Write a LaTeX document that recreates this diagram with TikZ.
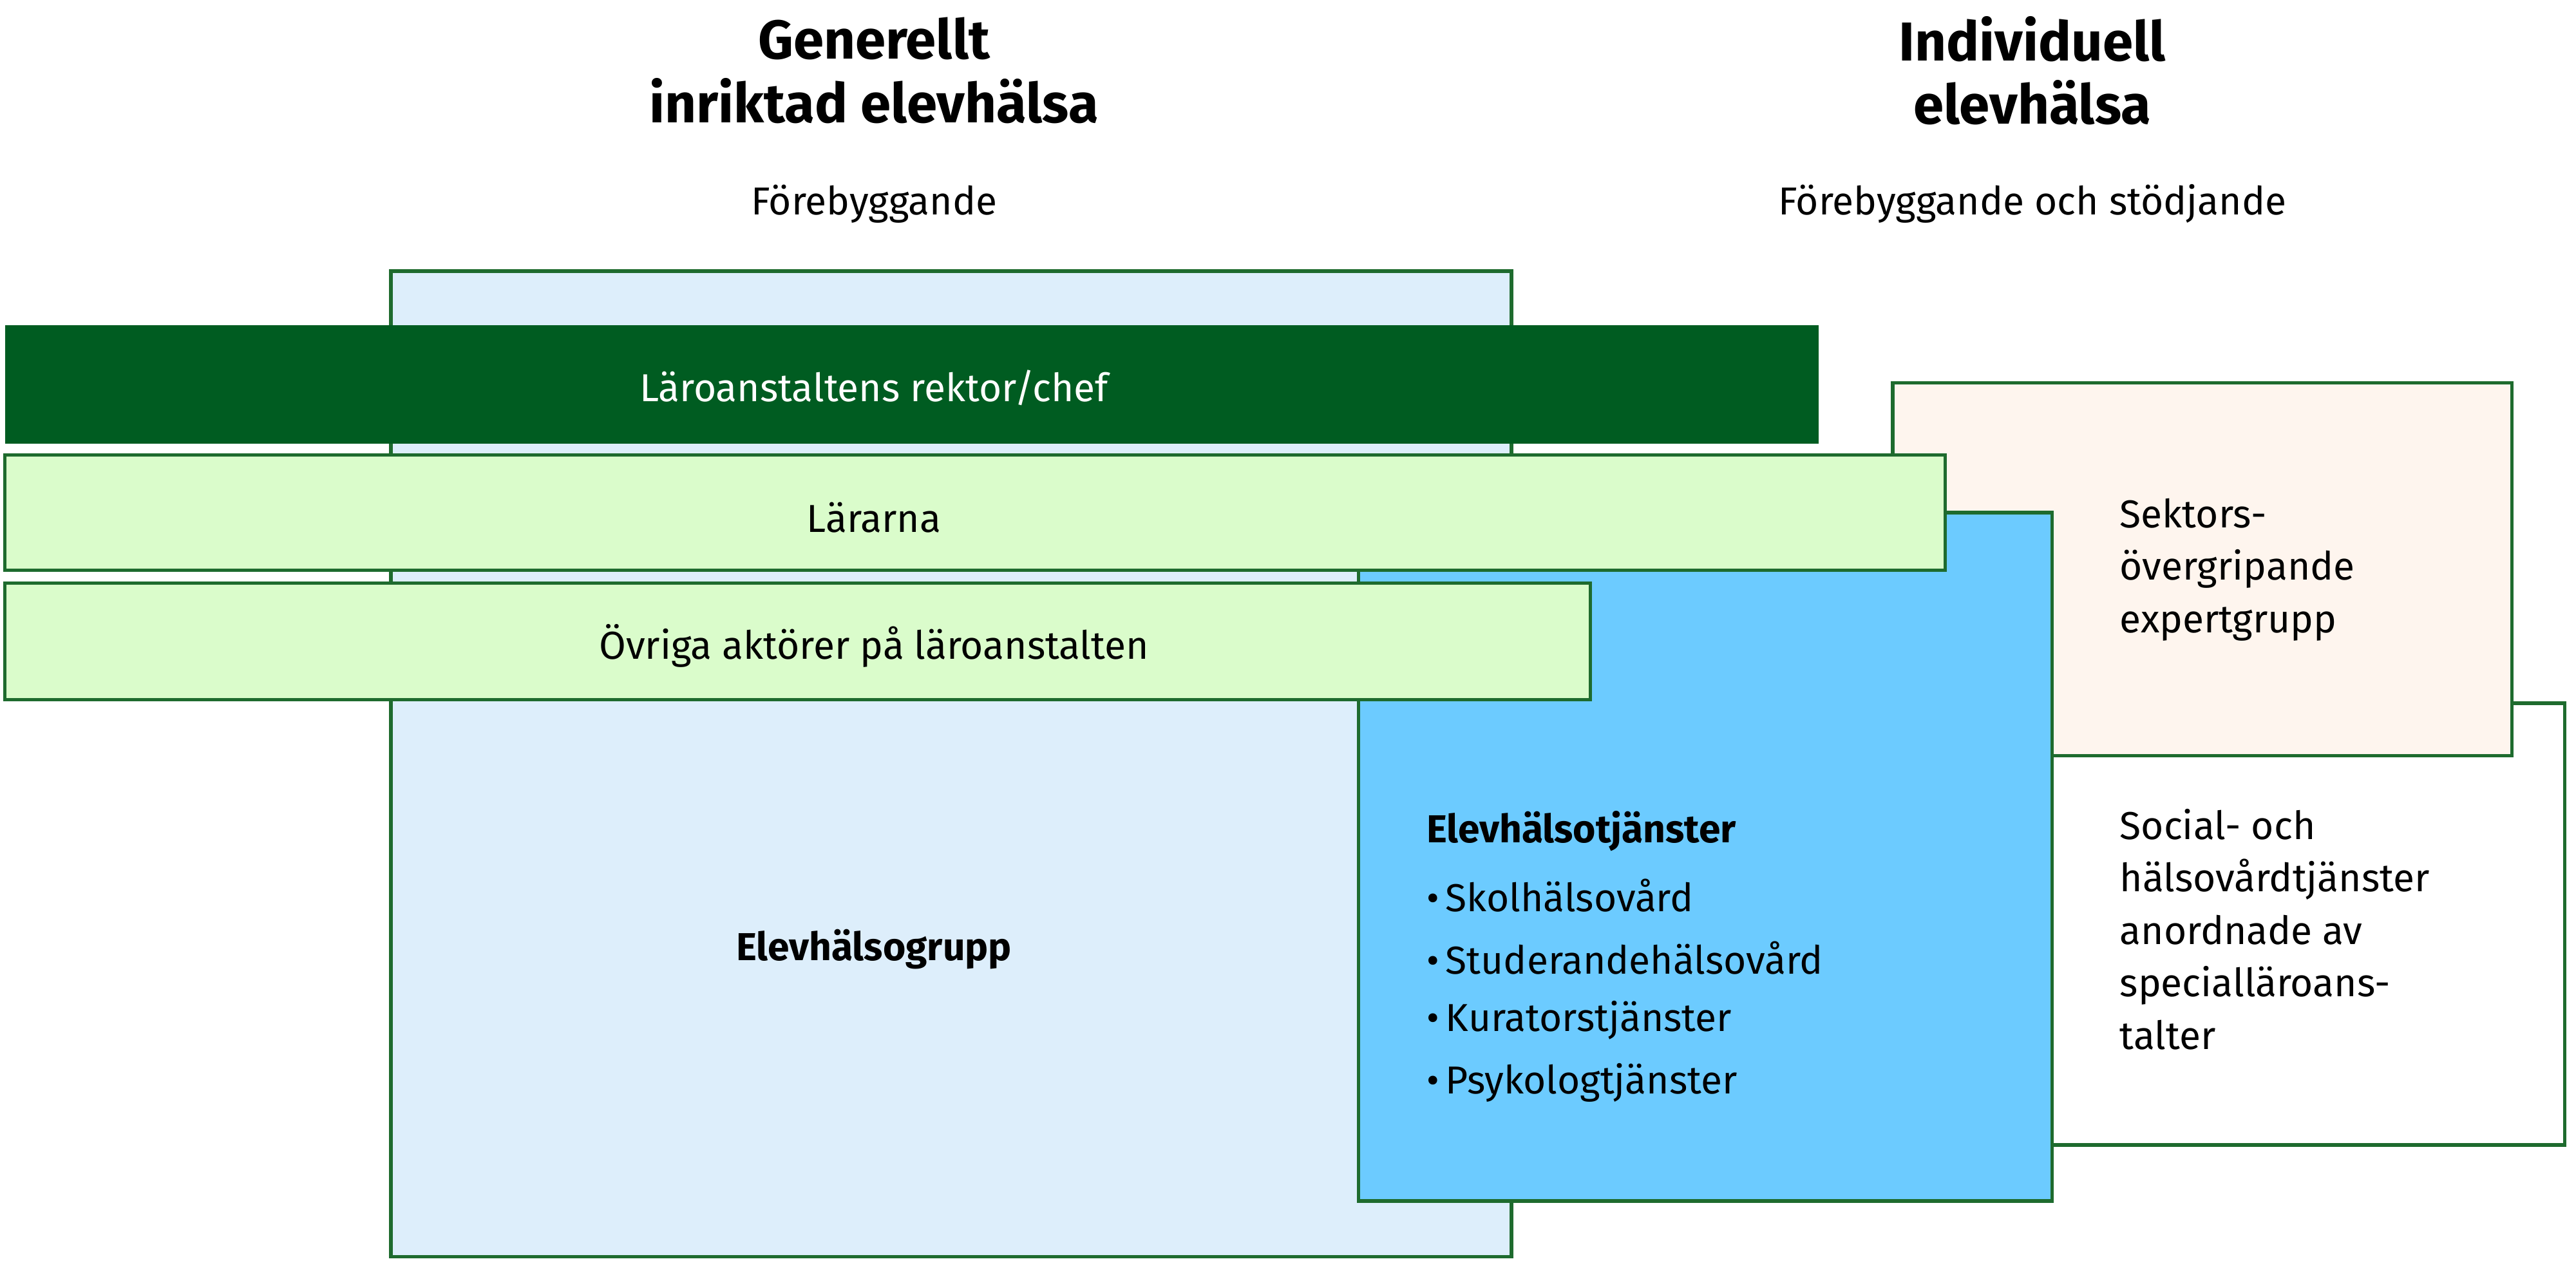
\documentclass[tikz,border=0pt]{standalone}
\usepackage{fontspec}
\setmainfont{Fira Sans}
\begin{document}
\begin{tikzpicture}[x=0.02cm,y=-0.02cm,
  bx/.style={draw=gb,line width=1.2pt},
  t/.style={font=\fontsize{13.5}{16}\selectfont,inner sep=0},
  tl/.style={t,anchor=west},
  ti/.style={font=\fontsize{19}{22}\selectfont\bfseries,align=center,inner sep=0}]
\definecolor{gb}{HTML}{1E6B2E}
\definecolor{dg}{HTML}{005C21}
\definecolor{lg}{HTML}{DAFCCB}
\definecolor{lb}{HTML}{DDEEFB}
\definecolor{bb}{HTML}{6CCBFF}
\definecolor{pe}{HTML}{FEF5EE}
\useasboundingbox (0,0) rectangle (1568,782.5);
\draw[bx,fill=lb] (238,165) rectangle (920,765);
\draw[bx,fill=white] (1200,428) rectangle (1561,697);
\draw[bx,fill=pe] (1152,233) rectangle (1529,460);
\draw[bx,fill=bb] (827,312) rectangle (1249,731);
\fill[dg] (3,198) rectangle (1107,270);
\draw[bx,fill=lg] (3,277) rectangle (1184,347);
\draw[bx,fill=lg] (3,355) rectangle (968,426);
\node[t,text=white] (r) at (532,236) {Läroanstaltens rektor/chef};
\node[t] (l) at (532,315) {Lärarna};
\node[t] (o) at (532,393) {Övriga aktörer på läroanstalten};
\node[ti] (g) at (532,43) {Generellt\\inriktad elevhälsa};
\node[ti] (i) at (1237,43) {Individuell\\elevhälsa};
\node[t] (f1) at (532,124) {Förebyggande};
\node[t] (f2) at (1237,124) {Förebyggande och stödjande};
\node[t,font=\fontsize{13.5}{16}\selectfont\bfseries] (eg) at (532,578) {Elevhälsogrupp};
\node[tl,font=\fontsize{13.5}{16}\selectfont\bfseries] (et) at (868,506) {Elevhälsotjänster};
\node[tl] (e1) at (868,545) {•\,Skolhälsovård};
\node[tl] (e2) at (868,583) {•\,Studerandehälsovård};
\node[tl] (e3) at (868,621) {•\,Kuratorstjänster};
\node[tl] (e4) at (868,659) {•\,Psykologtjänster};
\node[tl,align=left,font=\fontsize{13.5}{18.2}\selectfont,anchor=north west] (s) at (1290,303) {Sektors-\\övergripande\\expertgrupp};
\node[tl,align=left,font=\fontsize{13.5}{18.2}\selectfont,anchor=north west] (w) at (1290,492) {Social- och\\hälsovårdtjänster\\anordnade av\\specialläroans-\\talter};
\end{tikzpicture}
\end{document}
